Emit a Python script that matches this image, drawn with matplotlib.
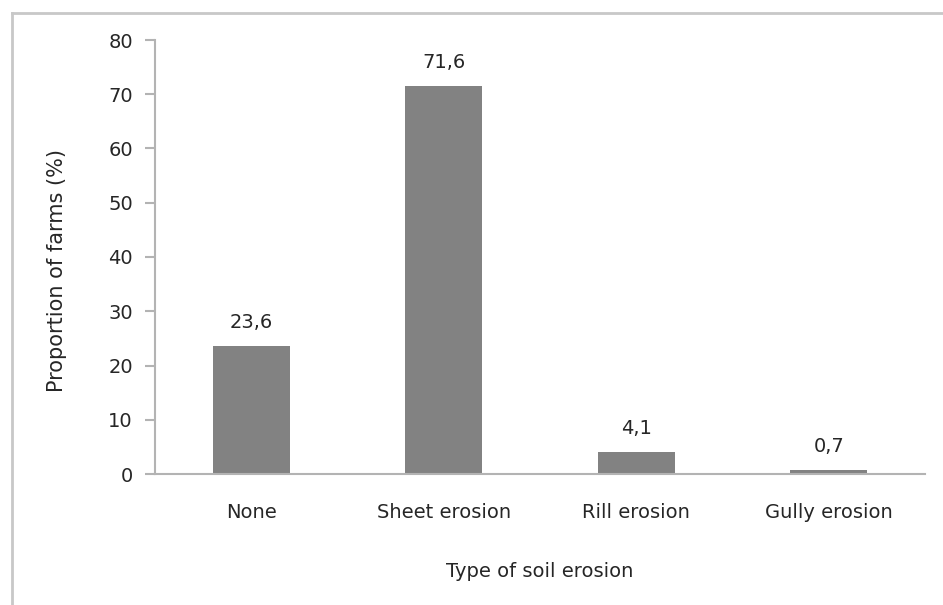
import numpy as np
import matplotlib.pyplot as plt
from matplotlib.lines import Line2D

plt.rcParams['font.family'] = ['DejaVu Sans']

# Datos
categorias = ["None", "Sheet erosion", "Rill erosion", "Gully erosion"]
proporcion = [23.6, 71.6, 4.1, 0.7]
etiquetas = ["23,6", "71,6", "4,1", "0,7"]

fs = 14
fig = plt.figure(figsize=(9.43, 6.05), dpi=100)
ax = fig.add_axes([155/943, 1 - 474/605, 770/943, 434/605])

x = np.arange(len(categorias))
barras = ax.bar(x, proporcion, width=0.4, color="#828282")

# etiquetas de valor sobre cada barra
for xi, v, t in zip(x, proporcion, etiquetas):
    ax.annotate(t, (xi, v), xytext=(0, 10), textcoords="offset points",
                ha="center", va="bottom", fontsize=fs, color="#262626")

ax.set_xlim(-0.5, len(categorias) - 0.5)
ax.set_ylim(0, 80)
ax.set_yticks(np.arange(0, 81, 10))
ax.set_xticks(x)
ax.set_xticklabels(categorias)

for s in ["top", "right"]:
    ax.spines[s].set_visible(False)
for s in ["left", "bottom"]:
    ax.spines[s].set_color("#b3b3b3")
    ax.spines[s].set_linewidth(1.5)

ax.tick_params(axis="y", length=7, width=1.5, color="#b3b3b3",
               labelsize=fs, labelcolor="#262626", pad=9)
ax.tick_params(axis="x", length=0, labelsize=fs, labelcolor="#262626", pad=21)

ax.set_ylabel("Proportion of farms (%)", fontsize=15, color="#262626")
ax.yaxis.set_label_coords(-88/770, 0.47)
ax.set_xlabel("Type of soil erosion", fontsize=fs, color="#262626", labelpad=29)

# marco exterior del grafico
fig.add_artist(Line2D([11.5/943, 11.5/943], [0, 1 - 12.5/605],
                      transform=fig.transFigure, color="#c8c8c8", lw=2))
fig.add_artist(Line2D([11.5/943, 1], [1 - 12.5/605, 1 - 12.5/605],
                      transform=fig.transFigure, color="#c8c8c8", lw=2))

plt.savefig("out.png", dpi=100)
